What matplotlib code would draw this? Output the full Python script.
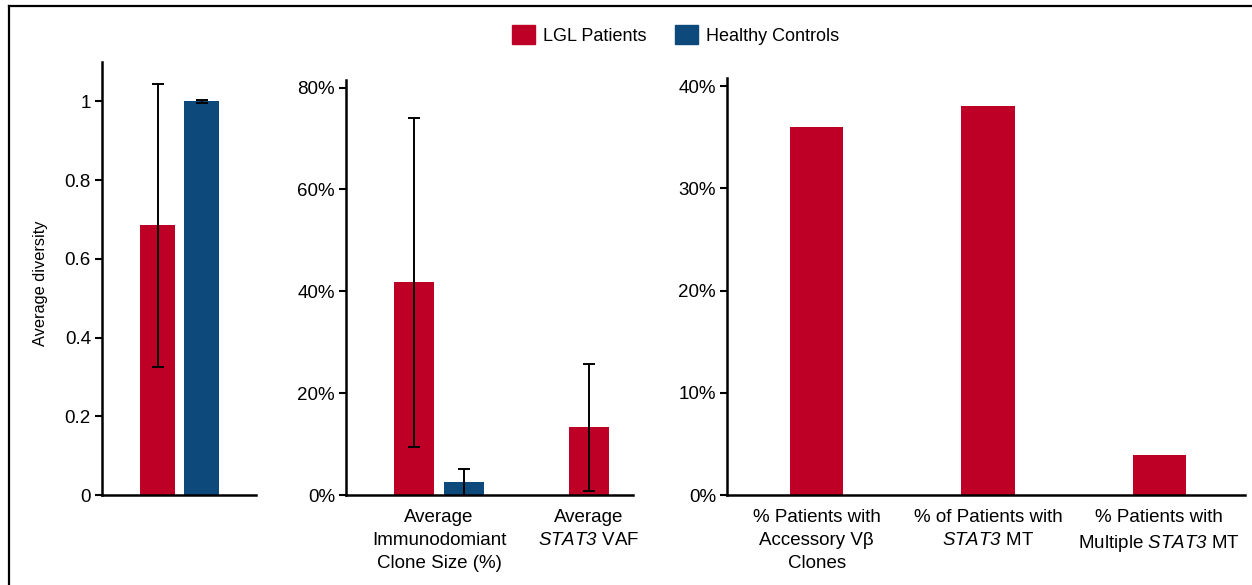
import numpy as np
import matplotlib
matplotlib.use("Agg")
import matplotlib.pyplot as plt
from matplotlib.patches import Patch
from matplotlib.lines import Line2D
from matplotlib import font_manager

# --- data ---
red = "#BE0026"
blue = "#0E497C"

div_lgl, div_lgl_err = 0.685, 0.36
div_hc, div_hc_err = 1.0, 0.003

clone_labels = ["Average\nImmunodomiant\nClone Size (%)", "Average\n$\\mathrm{STAT3}$ VAF"]
clone_lgl = [41.8, 13.3]
clone_lgl_err = [32.3, 12.5]
clone_hc = [2.5]
clone_hc_err = [2.7]

pct_labels = ["% Patients with\nAccessory V\u03b2\nClones",
              "% of Patients with\n$\\mathrm{STAT3}$ MT",
              "% Patients with\nMultiple $\\mathrm{STAT3}$ MT"]
pct_lgl = [36.0, 38.1, 3.9]

plt.rcParams["font.family"] = ["Liberation Sans", "DejaVu Sans"]
# math text only used for the italic gene name, digits included
plt.rcParams["mathtext.fontset"] = "custom"
plt.rcParams["mathtext.rm"] = "Liberation Sans:italic"
plt.rcParams["mathtext.it"] = "Liberation Sans:italic"

names = {f.name for f in font_manager.fontManager.ttflist}
if "Liberation Sans Narrow" in names:
    ylab_font, ylab_size = "Liberation Sans Narrow", 13
elif "DejaVu Sans Condensed" in names:
    ylab_font, ylab_size = "DejaVu Sans Condensed", 11.5
else:
    ylab_font, ylab_size = "Liberation Sans", 11.8

W, H = 1252, 585
fig = plt.figure(figsize=(W / 100, H / 100), dpi=100)

def box(x0, x1, ytop, y0=495):
    return [x0 / W, 1 - y0 / H, (x1 - x0) / W, (y0 - ytop) / H]

ax1 = fig.add_axes(box(102, 256, 62))
ax2 = fig.add_axes(box(346, 633, 80))
ax3 = fig.add_axes(box(727, 1245, 78))

ekw = dict(error_kw=dict(ecolor="black", elinewidth=1.4, capsize=4, capthick=1.4))
tick_fs = 13.5

for ax in (ax1, ax2, ax3):
    for s in ("top", "right"):
        ax.spines[s].set_visible(False)
    for s in ("left", "bottom"):
        ax.spines[s].set_linewidth(1.8)
    ax.tick_params(axis="y", length=5, width=1.5, labelsize=tick_fs, pad=3)
    ax.tick_params(axis="x", length=0, labelsize=tick_fs, pad=10)

# panel 1: diversity
ax1.bar([-0.22], [div_lgl], 0.35, color=red, yerr=[div_lgl_err], **ekw)
ax1.bar([0.22], [div_hc], 0.35, color=blue, yerr=[div_hc_err], **ekw)
ax1.set_xlim(-0.775, 0.765)
ax1.set_ylim(0, 1.10)
ax1.set_yticks([0, 0.2, 0.4, 0.6, 0.8, 1.0])
ax1.set_yticklabels(["0", "0.2", "0.4", "0.6", "0.8", "1"])
ax1.set_xticks([])
fig.text(40 / W, 1 - 283 / H, "Average diversity", rotation=90, ha="center",
         va="center", fontsize=ylab_size, family=ylab_font)

# panel 2: clone size / VAF
x2 = np.arange(len(clone_labels))
ax2.bar(x2[:1] - 0.167, clone_lgl[:1], 0.267, color=red, yerr=clone_lgl_err[:1], **ekw)
ax2.bar(x2[:1] + 0.167, clone_hc, 0.267, color=blue, yerr=clone_hc_err, **ekw)
ax2.bar(x2[1:], clone_lgl[1:], 0.267, color=red, yerr=clone_lgl_err[1:], **ekw)
ax2.set_xlim(-0.62, 1.293)
ax2.set_ylim(0, 81.5)
ax2.set_yticks([0, 20, 40, 60, 80])
ax2.set_yticklabels([f"{v}%" for v in [0, 20, 40, 60, 80]])
ax2.set_xticks(x2)
ax2.set_xticklabels(clone_labels, linespacing=1.45)

# panel 3: percentages
x3 = np.arange(len(pct_labels))
ax3.bar(x3, pct_lgl, 0.31, color=red)
ax3.set_xlim(-0.523, 2.5)
ax3.set_ylim(0, 40.8)
ax3.set_yticks([0, 10, 20, 30, 40])
ax3.set_yticklabels([f"{v}%" for v in [0, 10, 20, 30, 40]])
ax3.set_xticks(x3)
ax3.set_xticklabels(pct_labels, linespacing=1.45)

for ax in (ax1, ax2, ax3):
    for t in ax.get_xticklabels():
        t.set_va("top")

# legend
handles = [Patch(color=red, label="LGL Patients"), Patch(color=blue, label="Healthy Controls")]
fig.legend(handles=handles, loc="center", bbox_to_anchor=(0.5395, 1 - 35 / H), ncol=2,
           frameon=False, fontsize=13, handlelength=1.25, handleheight=1.25,
           handletextpad=0.45, columnspacing=1.6)

# outer frame (only left and top visible in the crop)
fig.add_artist(Line2D([9 / W, 9 / W], [0, 1 - 6 / H], color="black", lw=1.6,
                      transform=fig.transFigure))
fig.add_artist(Line2D([9 / W, 1], [1 - 6 / H, 1 - 6 / H], color="black", lw=1.6,
                      transform=fig.transFigure))

fig.savefig("out.png", dpi=100)
